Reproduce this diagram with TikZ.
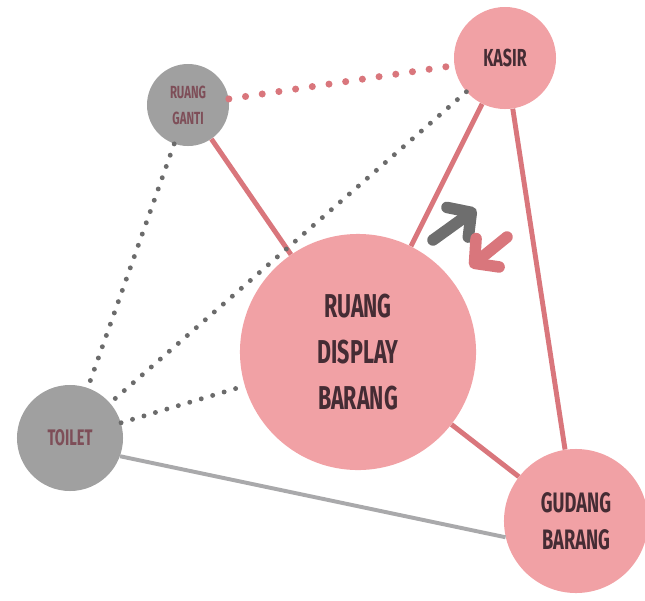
\documentclass[tikz,border=0pt]{standalone}
\usepackage{fontspec}
\usepackage{tikz}
\usetikzlibrary{arrows.meta}
\newfontfamily\labelfont[FakeStretch=0.65]{Fira Sans}
\newcommand\roomfont[2]{\labelfont\bfseries\fontsize{#1}{#2}\selectfont}
\definecolor{roomPink}{HTML}{F1A1A5}
\definecolor{roomGray}{HTML}{A0A0A0}
\definecolor{linkPink}{HTML}{D9767C}
\definecolor{linkGray}{HTML}{6B6B6B}
\definecolor{linkLight}{HTML}{A9A9AB}
\definecolor{textDark}{HTML}{452C34}
\definecolor{textMauve}{HTML}{7E4E58}
\definecolor{arrowGray}{HTML}{6E6E6E}

\begin{document}
\begin{tikzpicture}[x=0.025cm,y=-0.025cm,
  room/.style={circle,inner sep=0pt,align=center},
  pinkroom/.style={room,fill=roomPink,text=textDark},
  grayroom/.style={room,fill=roomGray,text=textMauve},
  pinkline/.style={draw=linkPink,line width=3.5pt},
  grayline/.style={draw=linkLight,line width=2.8pt},
  pinkdots/.style={draw=linkPink,line width=5pt,line cap=round,dash pattern=on 0pt off 12pt},
  graydots/.style={draw=linkGray,line width=3.5pt,line cap=round,dash pattern=on 0pt off 8.5pt},
  flow/.style={line width=8.2pt,line cap=round,-{Straight Barb[round,length=12pt,width=26pt]}}]
\useasboundingbox (0,0) rectangle (645,600);

\node[pinkroom,minimum size=2.55cm,font=\roomfont{17.5}{20}] (kasir) at (505,58) {KASIR};
\node[grayroom,minimum size=2.05cm,font=\roomfont{12.5}{18.5}] (ganti) at (188,105) {RUANG\\GANTI};
\node[pinkroom,minimum size=5.9cm,font=\roomfont{23.5}{32.6}] (display) at (358,352) {RUANG\\DISPLAY\\BARANG};
\node[grayroom,minimum size=2.65cm,font=\roomfont{16}{18}] (toilet) at (70,438) {TOILET};
\node[pinkroom,minimum size=3.6cm,font=\roomfont{20}{26.5}] (gudang) at (576,521) {GUDANG\\BARANG};

\draw[pinkdots] (ganti) -- (kasir);
\draw[pinkline] (ganti) -- (display);
\draw[graydots] (ganti) -- (toilet);
\draw[graydots] (kasir) -- (toilet);
\draw[graydots] (toilet) -- (display);
\draw[pinkline] (kasir) -- (display);
\draw[pinkline] (kasir) -- (gudang);
\draw[pinkline] (display) -- (gudang);
\draw[grayline] (toilet.-20) -- (gudang.193);

\coordinate (outTail) at (433,240);
\coordinate (outHead) at (476,209);
\coordinate (inTail) at (507,237);
\coordinate (inHead) at (470,267);
\draw[flow,arrowGray] (outTail) -- (outHead);
\draw[flow,linkPink] (inTail) -- (inHead);
\end{tikzpicture}
\end{document}
